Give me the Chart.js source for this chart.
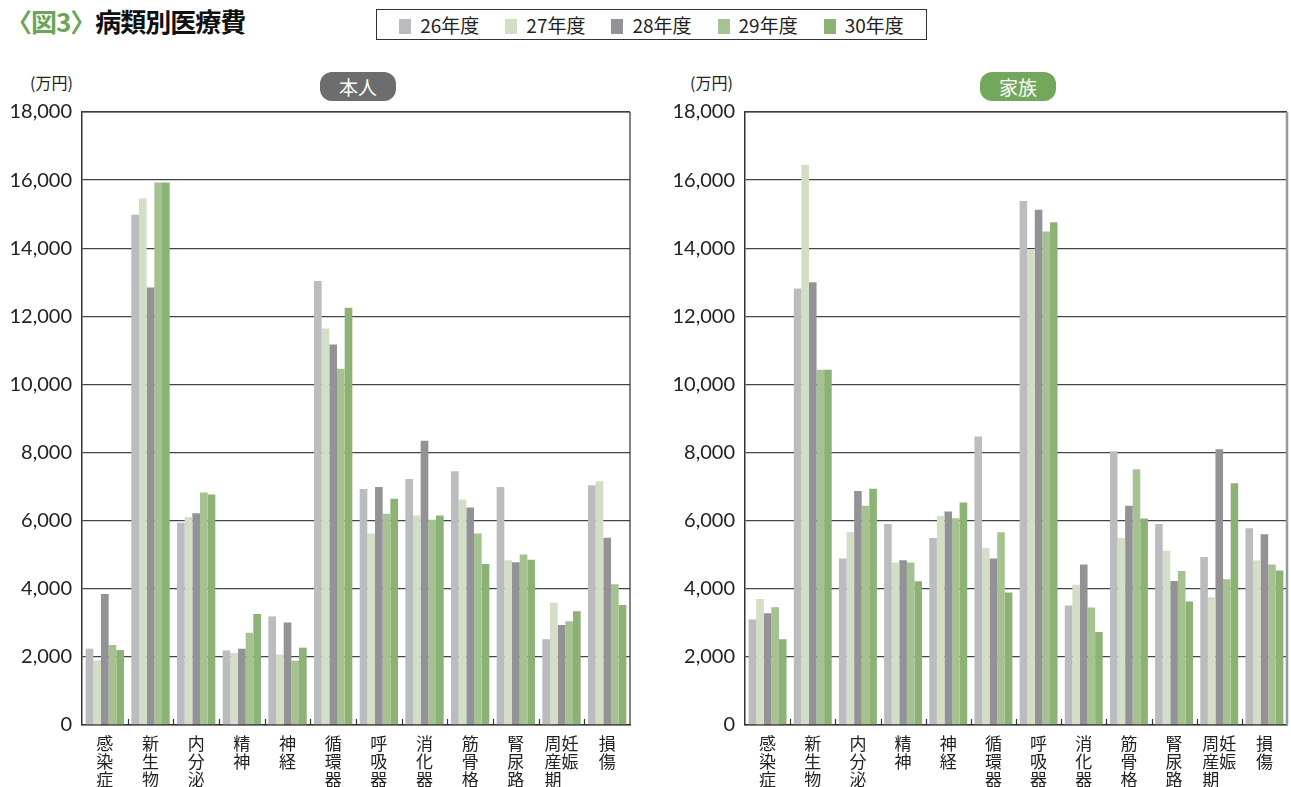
<!DOCTYPE html>
<html>
<head>
<meta charset="utf-8">
<script src="https://cdn.jsdelivr.net/npm/chart.js@4.4.1/dist/chart.umd.min.js"></script>
<style>
    body { margin: 0; background: #fff; font-family: "Noto Sans CJK JP", "Noto Sans", sans-serif; }
    #page { position: relative; width: 1291px; height: 787px; overflow: hidden; }
    .abs { position: absolute; }
    #title { left: 6px; top: 2px; font-size: 26px; font-weight: bold; color: #111; letter-spacing: -1px; }
    #title span { color: #6ba557; }
    #legend { left: 376px; top: 9px; width: 551px; height: 31px; border: 1px solid #333; box-sizing: border-box;
        display: flex; align-items: center; justify-content: center; gap: 26px; font-size: 19px; color: #222; }
    #legend i { display: inline-block; width: 12px; height: 15px; margin-right: 9px; vertical-align: -1px; }
    .unit { font-size: 16px; color: #222; }
    .pill { width: 76px; height: 29px; border-radius: 12px; color: #fff; font-size: 19px; text-align: center; line-height: 29px; }
</style>
</head>
<body>
<div id="page">
    <div id="title" class="abs"><span>〈図3〉</span>病類別医療費</div>
    <div id="legend" class="abs"></div>
    <div class="abs unit" style="left:30px;top:70px;">(万円)</div>
    <div class="abs unit" style="left:690px;top:70px;">(万円)</div>
    <div class="abs pill" style="left:320px;top:72px;background:#6d6d6d;">本人</div>
    <div class="abs pill" style="left:980px;top:72px;background:#73a75c;">家族</div>
    <canvas id="chart-honnin" class="abs" width="645" height="697" style="left:0;top:90px;"></canvas>
    <canvas id="chart-kazoku" class="abs" width="631" height="697" style="left:660px;top:90px;"></canvas>
</div>
<script>
// 病類 (縦書きラベル)
const categories = [
    ['感', '染', '症'], ['新', '生', '物'], ['内', '分', '泌'], ['精', '神'], ['神', '経'],
    ['循', '環', '器'], ['呼', '吸', '器'], ['消', '化', '器'], ['筋', '骨', '格'], ['腎', '尿', '路'],
    ['周妊', '産娠', '期\u3000'], ['損', '傷']
]
const years = ['26年度', '27年度', '28年度', '29年度', '30年度']
const colors = ['#bbbcc0', '#d2dec6', '#939397', '#a6c290', '#8cb276']
const yTicks = [0, 2000, 4000, 6000, 8000, 10000, 12000, 14000, 16000, 18000]

// 本人
const honnin26 = [2240, 14980, 5940, 2190, 3190, 13040, 6930, 7220, 7450, 6990, 2520, 7040]
const honnin27 = [1900, 15460, 6110, 2120, 2070, 11640, 5620, 6150, 6620, 4840, 3590, 7160]
const honnin28 = [3850, 12850, 6220, 2240, 3010, 11170, 6990, 8350, 6390, 4780, 2940, 5500]
const honnin29 = [2350, 15930, 6830, 2710, 1890, 10460, 6200, 6030, 5620, 5010, 3050, 4130]
const honnin30 = [2200, 15930, 6770, 3260, 2270, 12250, 6640, 6150, 4730, 4850, 3340, 3520]

// 家族
const kazoku26 = [3100, 12820, 4890, 5900, 5490, 8470, 15390, 3510, 8040, 5900, 4930, 5780]
const kazoku27 = [3700, 16450, 5660, 4770, 6140, 5200, 13950, 4120, 5490, 5120, 3750, 4830]
const kazoku28 = [3280, 13000, 6870, 4840, 6270, 4890, 15130, 4710, 6440, 4230, 8100, 5600]
const kazoku29 = [3460, 10430, 6440, 4770, 6070, 5660, 14490, 3450, 7510, 4520, 4280, 4710]
const kazoku30 = [2520, 10430, 6940, 4220, 6530, 3890, 14760, 2730, 6060, 3630, 7100, 4540]

// 凡例
const legendDiv = document.getElementById('legend')
years.forEach(function (y, i) {
    const item = document.createElement('span')
    item.innerHTML = "<i style='background:" + colors[i] + "'></i>" + y
    legendDiv.append(item)
})

// 枠線と下側の目盛り
const framePlugin = {
    id: 'frame',
    afterDraw(chart, args, opts) {
        const ctx = chart.ctx
        const a = chart.chartArea
        ctx.save()
        ctx.strokeStyle = '#333'
        ctx.lineWidth = 1.2
        ctx.beginPath()
        ctx.moveTo(a.left, a.top); ctx.lineTo(a.right, a.top)
        ctx.stroke()
        ctx.strokeStyle = opts.rightColor || '#333'
        ctx.lineWidth = opts.rightWidth || 1.2
        ctx.beginPath()
        ctx.moveTo(a.right, a.top); ctx.lineTo(a.right, a.bottom)
        ctx.stroke()
        ctx.strokeStyle = '#333'
        ctx.lineWidth = 1.2
        const n = categories.length
        for (let i = 1; i < n; i++) {
            const x = Math.round(a.left + i * a.width / n) + 0.5
            ctx.beginPath()
            ctx.moveTo(x, a.bottom); ctx.lineTo(x, a.bottom - 6)
            ctx.stroke()
        }
        ctx.restore()
    }
}

function drawChart(id, series, padRight, yWidth, rightColor, rightWidth) {
    const datasets = series.map(function (values, i) {
        return {
            label: years[i],
            data: values,
            backgroundColor: colors[i],
            borderWidth: 0,
            categoryPercentage: 0.84,
            barPercentage: 1.0
        }
    })
    new Chart(document.getElementById(id).getContext('2d'), {
        type: 'bar',
        data: { labels: categories, datasets: datasets },
        plugins: [framePlugin],
        options: {
            responsive: false,
            animation: false,
            layout: { padding: { top: 20, right: padRight, left: 0, bottom: 0 } },
            plugins: {
                legend: { display: false },
                tooltip: { enabled: false },
                frame: { rightColor: rightColor, rightWidth: rightWidth }
            },
            scales: {
                x: {
                    grid: { display: false },
                    border: { color: '#333', width: 1.5 },
                    ticks: {
                        color: '#222', padding: 2, maxRotation: 0, autoSkip: false,
                        font: { family: '"Noto Sans CJK JP"', size: 17, lineHeight: 1.05 }
                    },
                    afterFit: function (scale) { scale.height = 62 }
                },
                y: {
                    min: 0, max: 18000,
                    afterBuildTicks: function (scale) {
                        scale.ticks = yTicks.map(function (v) { return { value: v } })
                    },
                    grid: { color: '#444', lineWidth: 1.3, drawTicks: false },
                    border: { color: '#333', width: 1.5 },
                    ticks: {
                        color: '#222', padding: 10,
                        font: { family: 'Lato', size: 20 },
                        callback: function (v) { return v.toLocaleString('en-US') }
                    },
                    afterFit: function (scale) { scale.width = yWidth }
                }
            }
        }
    })
}

drawChart('chart-honnin', [honnin26, honnin27, honnin28, honnin29, honnin30], 15, 82, '#333', 1.2)
drawChart('chart-kazoku', [kazoku26, kazoku27, kazoku28, kazoku29, kazoku30], 4, 85, '#999', 2.5)
</script>
</body>
</html>
